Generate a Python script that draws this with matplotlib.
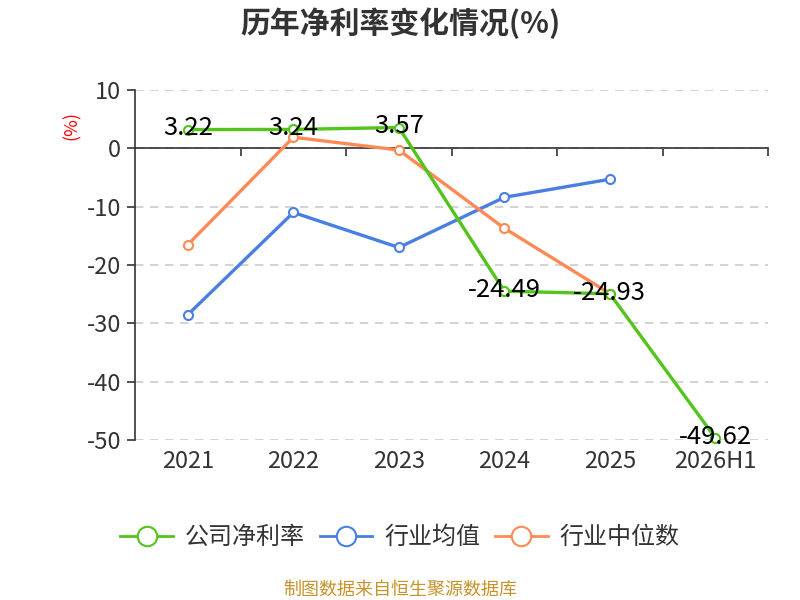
import matplotlib
matplotlib.use("Agg")
import matplotlib.pyplot as plt
from matplotlib.lines import Line2D

plt.rcParams['font.family'] = ['Noto Sans CJK SC', 'DejaVu Sans']

# Donnees
categories = ['2021', '2022', '2023', '2024', '2025', '2026H1']
company = [3.22, 3.24, 3.57, -24.49, -24.93, -49.62]
industry_mean = [-28.5, -11.0, -17.0, -8.4, -5.3]
industry_median = [-16.5, 1.9, -0.3, -13.7, -24.9]
yticks = [10, 0, -10, -20, -30, -40, -50]

green = '#52c41a'
blue = '#4a7fe2'
orange = '#ff8a55'

fig = plt.figure(figsize=(8, 6), dpi=100)
ax = fig.add_axes([0.169, 0.2667, 0.791, 0.5833])

x = list(range(len(categories)))
style = dict(lw=2.4, marker='o', markersize=6.5, markerfacecolor='white',
             markeredgewidth=1.5, clip_on=False)
ax.plot(x[:len(industry_mean)], industry_mean, color=blue, zorder=3, **style)
ax.plot(x[:len(industry_median)], industry_median, color=orange, zorder=3, **style)
ax.plot(x, company, color=green, zorder=4, **style)

for xi, v in zip(x, company):
    ax.text(xi, v + 0.2, f'{v:.2f}', ha='center', va='center', fontsize=18.5,
            color='black', zorder=5)

ax.set_xlim(-0.5, len(categories) - 0.5)
ax.set_ylim(-50, 10)
ax.set_yticks(yticks)
ax.set_yticklabels([str(t) for t in yticks])
ax.tick_params(axis='y', labelsize=17, labelcolor='#333333', length=6,
               width=1.2, color='#333333', pad=4)

# axe x sur la ligne zero, ticks aux bords des categories
ax.spines['bottom'].set_position(('data', 0))
ax.spines['bottom'].set_color('#333333')
ax.spines['bottom'].set_linewidth(1.2)
ax.spines['left'].set_color('#333333')
ax.spines['left'].set_linewidth(1.2)
ax.spines['top'].set_visible(False)
ax.spines['right'].set_visible(False)
ax.set_xticks([i + 0.5 for i in range(len(categories))])
ax.set_xticklabels([])
ax.tick_params(axis='x', length=6, width=1.2, color='#333333', direction='out')
for xi, lab in zip(x, categories):
    ax.text(xi, -51.8, lab, ha='center', va='top', fontsize=17, color='#333333')

ax.grid(axis='y', linestyle=(0, (5, 4)), color='#cccccc', lw=1.2)
ax.set_axisbelow(True)

fig.text(0.09, 0.79, '(%)', color='red', rotation=90, ha='center', va='center',
         fontsize=13)

fig.text(0.5, 0.962, '历年净利率变化情况(%)', ha='center', va='center',
         fontsize=21.5, fontweight='bold', color='#333333')

handles = [Line2D([0], [0], color=c, lw=2, marker='o', markersize=14,
                  markerfacecolor='white', markeredgewidth=1.5)
           for c in (green, blue, orange)]
fig.legend(handles, ['公司净利率', '行业均值', '行业中位数'], loc='center',
           bbox_to_anchor=(0.5, 0.105), ncol=3, frameon=False, fontsize=17.3,
           handlelength=2.2, columnspacing=0.6, handletextpad=0.5,
           labelcolor='#333333')

fig.text(0.5, 0.017, '制图数据来自恒生聚源数据库', ha='center', va='center',
         fontsize=13, color='#c8922a')

fig.savefig('out.png', dpi=100)
